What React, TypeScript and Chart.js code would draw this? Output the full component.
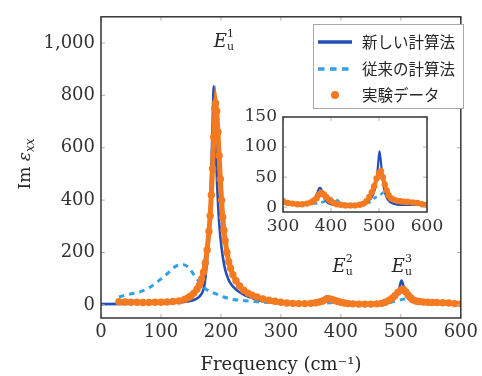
import React, { useEffect, useRef } from "react";
import { Chart, registerables } from "chart.js";
Chart.register(...registerables);

// ---------- data ----------
const newFreq = [0,40,80,110,130,145,155,162,167,171,174,176,178,180,182,184,186,188,190,192,194,196,199,203,207,212,216,221,230,240,250,262,275,290,310,330,345,355,362,368,372,376,379,382,386,390,396,405,420,440,460,472,480,486,490,495,498,501,504,507,511,516,522,530,545,565,585,600];
const newVals = [3,4,5,7,9,13,19,27,40,60,100,150,200,270,380,520,680,835,680,560,440,350,260,185,135,100,82,68,50,37,28,18,12,8,6,5,4,7,11,18,25,32,31,24,15,10,6,4,3,3,4,8,12,18,26,45,70,93,75,50,29,16,9,6,4,4,4,4];

const oldFreq = [30,40,50,65,80,95,110,125,135,145,155,165,175,190,205,220,240,260,280,300,330,360,380,395,405,412,420,435,460,480,492,505,515,522,530,545,570,600];
const oldVals = [30,37,42,50,65,90,118,148,155,145,115,85,60,44,30,21,16,12,9,7,6,6,8,12,15,12,8,5,5,8,16,22,28,22,13,7,5,4];

const expFreq = [30,40,50,60,70,80,90,100,110,120,130,140,146,150,155,160,164,168,171,174,177,180,182,184,186,188,190,191,193,195,197,199,201,203,205,207,210,213,216,220,225,231,238,245,252,260,270,280,290,300,310,320,330,340,350,358,364,370,375,380,385,390,395,400,406,412,420,430,440,450,460,468,474,480,485,490,495,500,504,508,512,516,520,525,530,537,545,552,560,570,580,590,600];
const expVals = [12,11,10,10,9,9,10,10,11,13,15,22,28,34,45,60,75,100,125,160,210,280,340,420,520,640,750,770,740,660,570,480,400,335,285,245,200,165,140,115,92,72,56,45,37,30,23,18,14,10,7,6,5,5,6,8,11,15,21,24,21,17,13,10,7,5,4,3,3,3,4,6,10,17,25,35,48,57,60,50,38,28,20,15,13,11,10,9,9,8,7,5,4];

const seriesLabels = ["新しい計算法", "従来の計算法", "実験データ"];

const mainXTicks = [0, 100, 200, 300, 400, 500, 600];
const mainYTicks = [0, 200, 400, 600, 800, 1000];
const insetXTicks = [300, 400, 500, 600];
const insetYTicks = [0, 50, 100, 150];

const peakF = [188, 386, 485];
const peakV = [985, 125, 125];
const peakSup = ["1", "2", "3"];

const xTitle = "Frequency (cm⁻¹)";

// ---------- style ----------
const SERIF = "'DejaVu Serif', serif";
const CJK = "'Noto Sans CJK JP', sans-serif";
const COL_NEW = "#2350b6";
const COL_OLD = "#2ea2e4";
const COL_EXP = "#f47a22";
const TEXT = "#262626";

const pts = (fs: number[], vs: number[]) => fs.map((x, i) => ({ x, y: vs[i] }));

function makeDatasets(inset: boolean) {
  return [
    {
      label: seriesLabels[2],
      data: pts(expFreq, expVals),
      showLine: true,
      borderColor: COL_EXP,
      borderWidth: inset ? 4 : 5,
      backgroundColor: COL_EXP,
      pointBackgroundColor: COL_EXP,
      pointBorderWidth: 0,
      pointRadius: inset ? 3.2 : 3.7,
      tension: 0,
      order: 1,
    },
    {
      label: seriesLabels[1],
      data: pts(oldFreq, oldVals),
      showLine: true,
      borderColor: COL_OLD,
      borderWidth: inset ? 2.6 : 3,
      borderDash: inset ? [4, 4] : [5.5, 5],
      pointRadius: 0,
      cubicInterpolationMode: "monotone",
      order: 2,
    },
    {
      label: seriesLabels[0],
      data: pts(newFreq, newVals),
      showLine: true,
      borderColor: COL_NEW,
      borderWidth: inset ? 2.2 : 2.6,
      pointRadius: 0,
      cubicInterpolationMode: "monotone",
      order: 3,
    },
  ];
}

const framePlugin = {
  id: "frame",
  beforeDatasetsDraw(chart: any) {
    const { ctx, chartArea: a } = chart;
    ctx.save();
    ctx.fillStyle = "#ffffff";
    ctx.fillRect(a.left, a.top, a.right - a.left, a.bottom - a.top);
    ctx.restore();
  },
  afterDatasetsDraw(chart: any) {
    const { ctx, chartArea: a, scales } = chart;
    ctx.save();
    ctx.strokeStyle = "#b0b0b0";
    ctx.lineWidth = 1;
    const L = 4;
    scales.x.ticks.forEach((t: any) => {
      const px = scales.x.getPixelForValue(t.value);
      ctx.beginPath();
      ctx.moveTo(px, a.bottom); ctx.lineTo(px, a.bottom - L);
      ctx.moveTo(px, a.top); ctx.lineTo(px, a.top + L);
      ctx.stroke();
    });
    scales.y.ticks.forEach((t: any) => {
      const py = scales.y.getPixelForValue(t.value);
      ctx.beginPath();
      ctx.moveTo(a.left, py); ctx.lineTo(a.left + L, py);
      ctx.moveTo(a.right, py); ctx.lineTo(a.right - L, py);
      ctx.stroke();
    });
    ctx.strokeStyle = "#353535";
    ctx.lineWidth = 1.5;
    ctx.strokeRect(a.left, a.top, a.right - a.left, a.bottom - a.top);
    ctx.restore();
  },
};

const annotPlugin = {
  id: "annot",
  afterDraw(chart: any) {
    const { ctx, scales } = chart;
    ctx.save();
    // y-axis title: Im ε_xx
    ctx.translate(24, 164);
    ctx.rotate(-Math.PI / 2);
    ctx.fillStyle = TEXT;
    ctx.textBaseline = "alphabetic";
    const f1 = `17px ${SERIF}`;
    const f2 = `italic 17px ${SERIF}`;
    const f3 = `italic 12px ${SERIF}`;
    ctx.font = f1; const w1 = ctx.measureText("Im ").width;
    ctx.font = f2; const w2 = ctx.measureText("ε").width;
    ctx.font = f3; const w3 = ctx.measureText("xx").width;
    let x0 = -(w1 + w2 + w3) / 2;
    ctx.font = f1; ctx.fillText("Im ", x0, 6); x0 += w1;
    ctx.font = f2; ctx.fillText("ε", x0, 6); x0 += w2;
    ctx.font = f3; ctx.fillText("xx", x0, 10);
    ctx.restore();

    // peak labels
    ctx.save();
    ctx.fillStyle = TEXT;
    ctx.textBaseline = "alphabetic";
    peakF.forEach((f, i) => {
      const px = scales.x.getPixelForValue(f);
      const py = scales.y.getPixelForValue(peakV[i]);
      ctx.font = `italic 18px ${SERIF}`;
      ctx.fillText("E", px, py);
      const w = ctx.measureText("E").width;
      ctx.font = `11px ${SERIF}`;
      ctx.fillText(peakSup[i], px + w, py - 10);
      ctx.fillText("u", px + w, py + 3);
    });
    ctx.restore();

    // legend
    ctx.save();
    const bx = 313, by = 24, bw = 150, bh = 84;
    ctx.fillStyle = "#ffffff";
    ctx.fillRect(bx, by, bw, bh);
    ctx.strokeStyle = "#a8a8a8";
    ctx.lineWidth = 1;
    ctx.strokeRect(bx + 0.5, by + 0.5, bw, bh);
    const rows = [42, 69, 95];
    const ds = chart.data.datasets;
    const byLabel = (l: string) => ds.find((d: any) => d.label === l);
    const dNew = byLabel(seriesLabels[0]);
    ctx.strokeStyle = dNew.borderColor; ctx.lineWidth = 3.5;
    ctx.beginPath(); ctx.moveTo(318, rows[0]); ctx.lineTo(352, rows[0]); ctx.stroke();
    const dOld = byLabel(seriesLabels[1]);
    ctx.strokeStyle = dOld.borderColor; ctx.lineWidth = 3.5; ctx.setLineDash([6.5, 5.5]);
    ctx.beginPath(); ctx.moveTo(318, rows[1]); ctx.lineTo(352, rows[1]); ctx.stroke();
    ctx.setLineDash([]);
    const dExp = byLabel(seriesLabels[2]);
    ctx.fillStyle = dExp.pointBackgroundColor;
    ctx.beginPath(); ctx.arc(335, rows[2], 4, 0, Math.PI * 2); ctx.fill();
    ctx.fillStyle = TEXT;
    ctx.font = `15.5px ${CJK}`;
    ctx.textBaseline = "middle";
    seriesLabels.forEach((l, i) => ctx.fillText(l, 362, rows[i]));
    ctx.restore();
  },
};

function MainChart() {
  const ref = useRef<HTMLCanvasElement>(null);
  useEffect(() => {
    const chart = new Chart(ref.current as HTMLCanvasElement, {
      type: "scatter",
      data: { datasets: makeDatasets(false) as any },
      options: {
        animation: false,
        responsive: false,
        devicePixelRatio: 1,
        layout: { padding: { top: 15, right: 17, left: 0, bottom: 0 } },
        plugins: { legend: { display: false }, tooltip: { enabled: false } },
        scales: {
          x: {
            type: "linear",
            min: 0,
            max: 600,
            afterBuildTicks: (s: any) => { s.ticks = mainXTicks.map((v) => ({ value: v })); },
            afterFit: (s: any) => { s.height = 58; },
            grid: { display: false, drawTicks: false },
            border: { display: false },
            ticks: { autoSkip: false, maxRotation: 0, padding: 4, color: "#333", font: { family: SERIF, size: 18 } },
            title: { display: true, text: xTitle, color: TEXT, font: { family: SERIF, size: 18 }, padding: { top: 0, bottom: 0 } },
          },
          y: {
            type: "linear",
            min: -50,
            max: 1100,
            afterBuildTicks: (s: any) => { s.ticks = mainYTicks.map((v) => ({ value: v })); },
            afterFit: (s: any) => { s.width = 101; },
            grid: { display: false, drawTicks: false },
            border: { display: false },
            ticks: {
              padding: 6,
              color: "#333",
              font: { family: SERIF, size: 18 },
              callback: (v: any) => Number(v).toLocaleString("en-US"),
            },
          },
        },
      } as any,
      plugins: [framePlugin, annotPlugin],
    });
    return () => chart.destroy();
  }, []);
  return <canvas ref={ref} width={482} height={376} style={{ position: "absolute", left: 0, top: 0, width: 482, height: 376 }} />;
}

function InsetChart() {
  const ref = useRef<HTMLCanvasElement>(null);
  useEffect(() => {
    const chart = new Chart(ref.current as HTMLCanvasElement, {
      type: "scatter",
      data: { datasets: makeDatasets(true) as any },
      options: {
        animation: false,
        responsive: false,
        devicePixelRatio: 1,
        layout: { padding: { top: 17, right: 22, left: 0, bottom: 0 } },
        plugins: { legend: { display: false }, tooltip: { enabled: false } },
        scales: {
          x: {
            type: "linear",
            min: 300,
            max: 600,
            afterBuildTicks: (s: any) => { s.ticks = insetXTicks.map((v) => ({ value: v })); },
            afterFit: (s: any) => { s.height = 30; },
            grid: { display: false, drawTicks: false },
            border: { display: false },
            ticks: { autoSkip: false, maxRotation: 0, padding: 4, color: "#333", font: { family: SERIF, size: 17 } },
          },
          y: {
            type: "linear",
            min: -8,
            max: 150,
            afterBuildTicks: (s: any) => { s.ticks = insetYTicks.map((v) => ({ value: v })); },
            afterFit: (s: any) => { s.width = 47; },
            grid: { display: false, drawTicks: false },
            border: { display: false },
            ticks: { padding: 6, color: "#333", font: { family: SERIF, size: 17 } },
          },
        },
      } as any,
      plugins: [framePlugin],
    });
    return () => chart.destroy();
  }, []);
  return <canvas ref={ref} width={213} height={142} style={{ position: "absolute", left: 236, top: 100, width: 213, height: 142 }} />;
}

export default function App() {
  return (
    <div style={{ position: "fixed", left: 0, top: 0, width: 482, height: 376, background: "#ffffff" }}>
      <MainChart />
      <InsetChart />
    </div>
  );
}
